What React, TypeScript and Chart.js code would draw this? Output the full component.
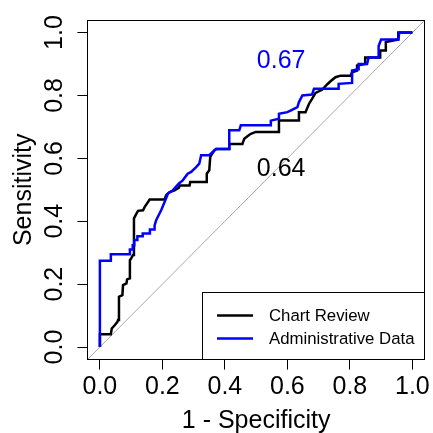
import React, { useEffect, useRef } from 'react';
import { Chart, registerables } from 'chart.js';

Chart.register(...registerables);

const FONT = "'Liberation Sans', Arial, Helvetica, sans-serif";

const seriesNames = ['Chart Review', 'Administrative Data'];
const seriesColors = ['#000000', '#0000FF'];

const chartReviewFpr = [0, 0, 0.035, 0.038, 0.048, 0.056, 0.058, 0.061, 0.072, 0.074, 0.085, 0.087, 0.096, 0.096, 0.1, 0.106, 0.109, 0.109, 0.117, 0.122, 0.138, 0.143, 0.154, 0.159, 0.207, 0.212, 0.223, 0.239, 0.253, 0.255, 0.287, 0.289, 0.342, 0.342, 0.35, 0.353, 0.356, 0.366, 0.372, 0.414, 0.414, 0.456, 0.462, 0.472, 0.483, 0.499, 0.573, 0.573, 0.635, 0.637, 0.658, 0.669, 0.679, 0.69, 0.711, 0.727, 0.738, 0.754, 0.77, 0.802, 0.807, 0.823, 0.823, 0.849, 0.849, 0.897, 0.897, 0.915, 0.915, 0.955, 0.955, 1];
const chartReviewTpr = [0, 0.041, 0.041, 0.059, 0.07, 0.08, 0.086, 0.16, 0.165, 0.197, 0.202, 0.215, 0.218, 0.276, 0.282, 0.293, 0.318, 0.409, 0.424, 0.433, 0.435, 0.445, 0.461, 0.469, 0.469, 0.483, 0.493, 0.498, 0.507, 0.514, 0.514, 0.525, 0.525, 0.551, 0.562, 0.604, 0.61, 0.625, 0.63, 0.63, 0.646, 0.646, 0.662, 0.67, 0.678, 0.684, 0.684, 0.72, 0.72, 0.747, 0.747, 0.773, 0.789, 0.808, 0.818, 0.835, 0.845, 0.858, 0.863, 0.863, 0.874, 0.879, 0.895, 0.9, 0.921, 0.921, 0.943, 0.943, 0.97, 0.978, 1, 1];

const adminFpr = [0, 0, 0.035, 0.035, 0.096, 0.096, 0.105, 0.105, 0.11, 0.11, 0.12, 0.12, 0.137, 0.137, 0.16, 0.16, 0.175, 0.175, 0.18, 0.196, 0.207, 0.218, 0.233, 0.253, 0.265, 0.281, 0.292, 0.308, 0.318, 0.324, 0.35, 0.366, 0.372, 0.414, 0.414, 0.446, 0.451, 0.547, 0.547, 0.573, 0.573, 0.6, 0.61, 0.632, 0.637, 0.648, 0.679, 0.685, 0.764, 0.764, 0.807, 0.807, 0.826, 0.828, 0.855, 0.86, 0.892, 0.892, 0.9, 0.955, 0.958, 1];
const adminTpr = [0, 0.274, 0.274, 0.295, 0.295, 0.31, 0.31, 0.324, 0.324, 0.34, 0.34, 0.352, 0.352, 0.361, 0.361, 0.374, 0.374, 0.387, 0.403, 0.435, 0.461, 0.488, 0.498, 0.52, 0.53, 0.551, 0.557, 0.572, 0.583, 0.61, 0.61, 0.625, 0.63, 0.63, 0.689, 0.689, 0.705, 0.705, 0.72, 0.726, 0.742, 0.747, 0.752, 0.763, 0.779, 0.8, 0.803, 0.821, 0.821, 0.837, 0.84, 0.879, 0.883, 0.9, 0.9, 0.921, 0.921, 0.957, 0.978, 0.978, 1, 1];

const diagonal = [-0.04, 1.04];
const tickValues = [0, 0.2, 0.4, 0.6, 0.8, 1.0];
const tickLabels = ['0.0', '0.2', '0.4', '0.6', '0.8', '1.0'];
const aucLabels = ['0.64', '0.67'];
const aucX = [0.58, 0.58];
const aucY = [0.565, 0.91];
const xTitle = '1 - Specificity';
const yTitle = 'Sensitivity';

const toPoints = (xs: number[], ys: number[]) => xs.map((x, i) => ({ x, y: ys[i] }));

const overlayPlugin = {
  id: 'overlay',
  afterDraw(chart: any) {
    const { ctx, chartArea: a, scales } = chart;
    const xs = scales.x;
    const ys = scales.y;
    ctx.save();
    const l = Math.round(a.left) + 0.5;
    const t = Math.round(a.top) + 0.5;
    const r = Math.round(a.right) - 0.5;
    const b = Math.round(a.bottom) - 0.5;
    ctx.strokeStyle = '#000';
    ctx.lineWidth = 1;
    ctx.strokeRect(l, t, r - l, b - t);
    ctx.font = `25px ${FONT}`;
    ctx.textAlign = 'center';
    ctx.textBaseline = 'middle';
    aucLabels.forEach((txt, i) => {
      ctx.fillStyle = seriesColors[i];
      ctx.fillText(txt, xs.getPixelForValue(aucX[i]), ys.getPixelForValue(aucY[i]));
    });
    const lw = 222.5;
    const lh = 67.3;
    const lx = Math.round(r - lw) + 0.5;
    const ly = Math.round(b - lh) + 0.5;
    ctx.strokeRect(lx, ly, r - lx, b - ly);
    ctx.font = `16.8px ${FONT}`;
    ctx.textAlign = 'left';
    seriesNames.forEach((name, i) => {
      const yy = ly + 23 + i * 23;
      ctx.strokeStyle = seriesColors[i];
      ctx.lineWidth = 2.6;
      ctx.beginPath();
      ctx.moveTo(lx + 14.5, yy);
      ctx.lineTo(lx + 50.5, yy);
      ctx.stroke();
      ctx.fillStyle = '#000';
      ctx.fillText(name, lx + 66.5, yy + 0.8);
    });
    ctx.restore();
  },
};

export default function App() {
  const canvasRef = useRef<HTMLCanvasElement | null>(null);

  useEffect(() => {
    const canvas = canvasRef.current;
    if (!canvas) return;
    const chart = new Chart(canvas, {
      type: 'line',
      data: {
        datasets: [
          {
            label: seriesNames[1],
            data: toPoints(adminFpr, adminTpr),
            borderColor: seriesColors[1],
            borderWidth: 2.5,
            pointRadius: 0,
            fill: false,
            tension: 0,
            order: 0,
          },
          {
            label: seriesNames[0],
            data: toPoints(chartReviewFpr, chartReviewTpr),
            borderColor: seriesColors[0],
            borderWidth: 2.5,
            pointRadius: 0,
            fill: false,
            tension: 0,
            order: 1,
          },
          {
            label: 'identity',
            data: toPoints(diagonal, diagonal),
            borderColor: '#A9A9A9',
            borderWidth: 1,
            pointRadius: 0,
            fill: false,
            order: 2,
          },
        ],
      },
      options: {
        responsive: false,
        animation: false,
        devicePixelRatio: 1,
        layout: { padding: { top: 19.4, right: 6.4, left: 0, bottom: 0 } },
        plugins: { legend: { display: false }, tooltip: { enabled: false } },
        scales: {
          x: {
            type: 'linear',
            min: -0.04,
            max: 1.04,
            afterBuildTicks: (s: any) => { s.ticks = tickValues.map((v) => ({ value: v })); },
            afterFit: (s: any) => { s.height = 73.4; },
            ticks: {
              callback: (_v: any, i: number) => tickLabels[i],
              color: '#000',
              font: { family: FONT, size: 25 },
              padding: 3,
              maxRotation: 0,
              minRotation: 0,
            },
            grid: { drawOnChartArea: false, drawTicks: true, tickLength: 10, color: '#000', lineWidth: 1 },
            border: { display: false },
            title: { display: true, text: xTitle, color: '#000', font: { family: FONT, size: 25 }, padding: { top: 0, bottom: -3 } },
          },
          y: {
            type: 'linear',
            min: -0.04,
            max: 1.04,
            afterBuildTicks: (s: any) => { s.ticks = tickValues.map((v) => ({ value: v })); },
            afterFit: (s: any) => { s.width = 87.4; },
            ticks: {
              callback: (_v: any, i: number) => tickLabels[i],
              color: '#000',
              font: { family: FONT, size: 25 },
              padding: 5,
              minRotation: 90,
              maxRotation: 90,
              crossAlign: 'center',
            },
            grid: { drawOnChartArea: false, drawTicks: true, tickLength: 10, color: '#000', lineWidth: 1 },
            border: { display: false },
            title: { display: true, text: yTitle, color: '#000', font: { family: FONT, size: 25 }, padding: { top: 9.3, bottom: 0 } },
          },
        },
      },
      plugins: [overlayPlugin],
    } as any);
    return () => chart.destroy();
  }, []);

  return (
    <div style={{ position: 'absolute', left: 0, top: 0, width: 433, height: 433, background: '#fff' }}>
      <canvas ref={canvasRef} width={433} height={433} style={{ display: 'block' }} />
    </div>
  );
}
